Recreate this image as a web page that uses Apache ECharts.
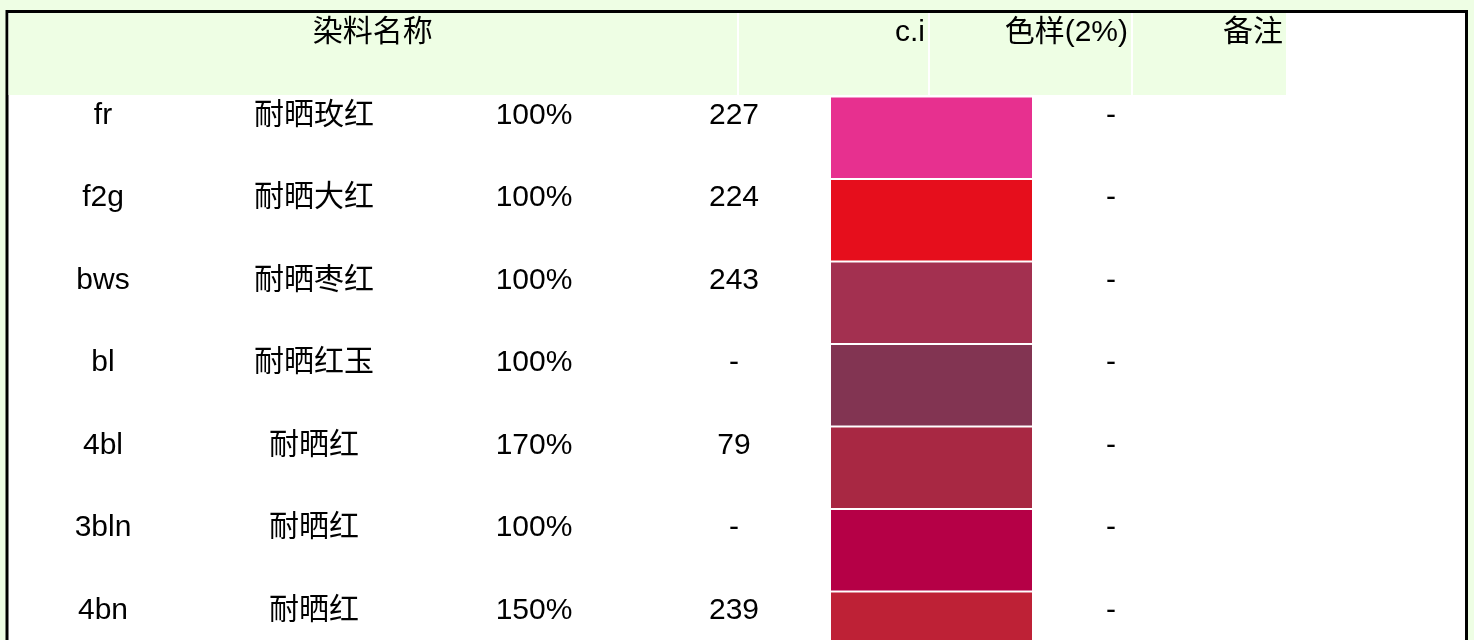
<!DOCTYPE html>
<html>
<head>
<meta charset="utf-8">
<title>染料色样</title>
<script src="https://cdn.jsdelivr.net/npm/echarts@6/dist/echarts.min.js"></script>
<style>
	html, body { margin: 0; padding: 0; background: #eefee4; overflow: hidden; }
	#chart { width: 1474px; height: 700px; }
</style>
</head>
<body>
<div id="chart"></div>
<script>
// 表头
var headers = ['染料名称', 'c.i', '色样(2%)', '备注'];
// 染料代号
var codes = ['fr', 'f2g', 'bws', 'bl', '4bl', '3bln', '4bn'];
// 染料名称
var names = ['耐晒玫红', '耐晒大红', '耐晒枣红', '耐晒红玉', '耐晒红', '耐晒红', '耐晒红'];
// 力份
var strengths = ['100%', '100%', '100%', '100%', '170%', '100%', '150%'];
// c.i 编号
var ciNumbers = ['227', '224', '243', '-', '79', '-', '239'];
// 色样颜色
var swatchColors = ['#e7308f', '#e60e1c', '#a33050', '#823452', '#a82843', '#b50046', '#be2136'];
// 备注
var notes = ['-', '-', '-', '-', '-', '-', '-'];

var font = "'Liberation Sans', 'Noto Sans CJK SC', sans-serif";
var rowTop = 96.5, rowH = 82.5;

var grids = [], xAxes = [], yAxes = [], series = [];

// 文本列
function textColumn(list, center) {
	var idx = grids.length;
	grids.push({ left: center - 80, width: 160, top: rowTop + 19 - rowH / 2, height: rowH * codes.length });
	xAxes.push({ gridIndex: idx, type: 'category', data: [''], show: false });
	yAxes.push({ gridIndex: idx, type: 'category', data: codes, inverse: true, show: false });
	series.push({
		type: 'scatter',
		xAxisIndex: idx,
		yAxisIndex: idx,
		symbolSize: 1,
		itemStyle: { color: '#fff', opacity: 1 },
		silent: true,
		label: {
			show: true,
			position: 'inside',
			color: '#000',
			opacity: 1,
			textBorderWidth: 0,
			fontSize: 30,
			fontFamily: font,
			formatter: function (p) { return list[p.dataIndex]; }
		},
		data: list.map(function (v, i) { return [0, i]; })
	});
}

textColumn(codes, 103);
textColumn(names, 314);
textColumn(strengths, 534);
textColumn(ciNumbers, 734);
textColumn(notes, 1111);

// 色样列
var sw = grids.length;
grids.push({ left: 831, width: 201, top: rowTop, height: rowH * codes.length });
xAxes.push({ gridIndex: sw, type: 'value', min: 0, max: 1, show: false });
yAxes.push({ gridIndex: sw, type: 'category', data: codes, inverse: true, show: false });
series.push({
	type: 'bar',
	xAxisIndex: sw,
	yAxisIndex: sw,
	barWidth: rowH - 2,
	silent: true,
	data: swatchColors.map(function (c) {
		return { value: 1, itemStyle: { color: c } };
	})
});

// 表头单元格
var headCells = [
	{ x: 8.5, w: 728.5, align: 'center' },
	{ x: 739, w: 189, align: 'right' },
	{ x: 930, w: 201, align: 'right' },
	{ x: 1133, w: 153, align: 'right' }
];
var graphics = [{
	type: 'rect',
	shape: { x: 7, y: 11.5, width: 1459.5, height: 700 },
	style: { fill: '#fff', stroke: '#000', lineWidth: 3 },
	z: -10
}];
headCells.forEach(function (c, i) {
	graphics.push({
		type: 'rect',
		shape: { x: c.x, y: 13, width: c.w, height: 82 },
		style: { fill: '#eefee4' },
		z: -9
	});
	graphics.push({
		type: 'text',
		x: c.align == 'center' ? c.x + c.w / 2 : c.x + c.w - 3,
		y: 32.5,
		style: {
			text: headers[i],
			fill: '#000',
			font: '30px ' + font,
			textAlign: c.align,
			textVerticalAlign: 'middle'
		},
		z: -8
	});
});

var myChart = echarts.init(document.getElementById('chart'));
myChart.setOption({
	backgroundColor: '#eefee4',
	animation: false,
	graphic: graphics,
	grid: grids,
	xAxis: xAxes,
	yAxis: yAxes,
	series: series
});
</script>
</body>
</html>
